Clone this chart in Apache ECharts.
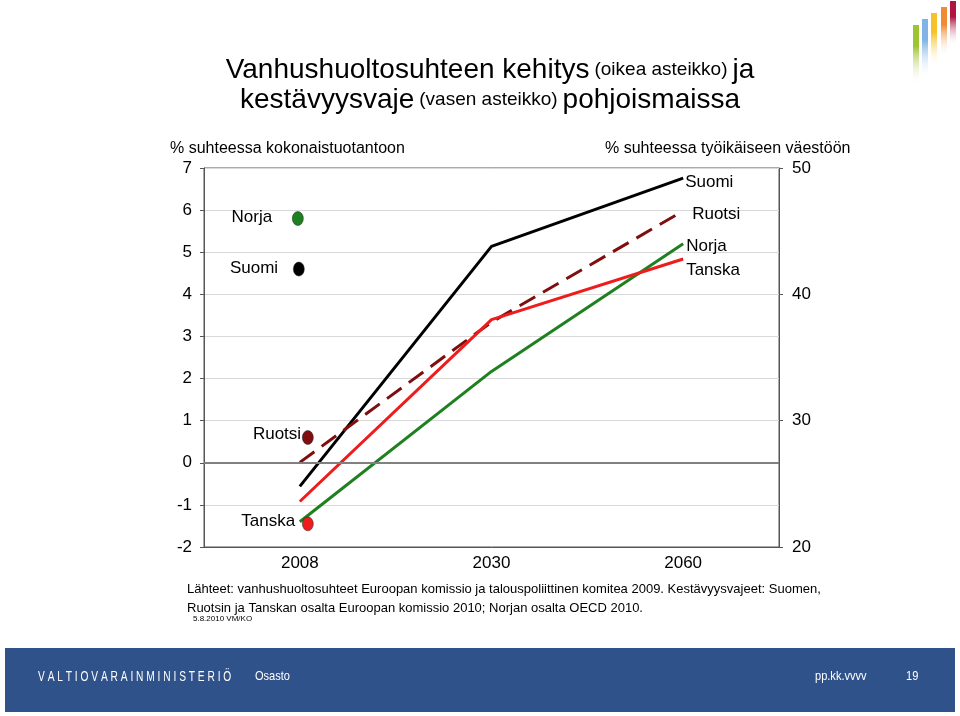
<!DOCTYPE html>
<html>
<head>
<meta charset="utf-8">
<script src="https://cdn.jsdelivr.net/npm/echarts@6/dist/echarts.min.js"></script>
<style>
  html, body { margin: 0; padding: 0; background: #fff; }
  #main { width: 960px; height: 716px; }
</style>
</head>
<body>
<div id="main"></div>
<script>
  // vuodet
  var years = ['2008', '2030', '2060']

  // vanhushuoltosuhde, % työikäisestä väestöstä (oikea asteikko)
  var suomiLine = [24.8, 43.8, 49.2]
  var ruotsiLine = [26.7, 37.8, 46.6]
  var norjaLine = [22.0, 33.9, 44.0]
  var tanskaLine = [23.6, 38.0, 42.8]

  // kestävyysvaje, % kokonaistuotannosta (vasen asteikko), vuosi 2008
  var gapNames = ['Norja', 'Suomi', 'Ruotsi', 'Tanska']
  var gapValues = [5.8, 4.6, 0.6, -1.45]

  var fontFam = '"Liberation Sans", Arial, sans-serif'
  var chart = echarts.init(document.getElementById('main'))

  function lineSeries(name, data, color, dashed, dist, dy) {
    return {
      name: name,
      type: 'line',
      yAxisIndex: 1,
      data: data,
      symbol: 'none',
      lineStyle: { color: color, width: 3, type: dashed ? [18, 9] : 'solid' },
      endLabel: {
        show: true,
        formatter: '{a}',
        color: '#000',
        fontSize: 17,
        fontFamily: fontFam,
        distance: dist,
        offset: [0, dy],
      },
      z: 3,
    }
  }

  function dotSeries(i, color, dx, dist, dy) {
    var d = [null, null, null]
    d[0] = gapValues[i]
    return {
      name: gapNames[i] + ' vaje',
      type: 'scatter',
      yAxisIndex: 0,
      data: d,
      symbol: 'circle',
      symbolSize: [11, 14],
      symbolOffset: [dx, 0],
      itemStyle: { color: color, opacity: 1, borderColor: '#222', borderWidth: 0.5 },
      label: {
        show: true,
        position: 'left',
        formatter: gapNames[i],
        color: '#000',
        opacity: 1,
        fontSize: 17,
        fontFamily: fontFam,
        distance: dist,
        offset: [0, dy],
      },
      emphasis: { disabled: true },
      z: 4,
    }
  }

  var option = {
    animation: false,
    backgroundColor: '#fff',
    textStyle: { fontFamily: fontFam },
    title: [
      {
        left: 485,
        top: 50,
        textAlign: 'center',
        text: '{a|Vanhushuoltosuhteen kehitys} {b|(oikea asteikko)} {a|ja}\n{a|kestävyysvaje} {b|(vasen asteikko)} {a|pohjoismaissa}',
        textStyle: {
          fontWeight: 'normal',
          rich: {
            a: { fontSize: 28, fontWeight: 'normal', color: '#000', fontFamily: fontFam, lineHeight: 30 },
            b: { fontSize: 19, fontWeight: 'normal', color: '#000', fontFamily: fontFam, lineHeight: 30 },
          },
        },
      },
      {
        left: 165,
        top: 136,
        text: '% suhteessa kokonaistuotantoon',
        textStyle: { fontSize: 16, fontWeight: 'normal', color: '#000', fontFamily: fontFam },
      },
      {
        left: 600,
        top: 136,
        text: '% suhteessa työikäiseen väestöön',
        textStyle: { fontSize: 16, fontWeight: 'normal', color: '#000', fontFamily: fontFam },
      },
      {
        left: 182,
        top: 575,
        text: 'Lähteet: vanhushuoltosuhteet Euroopan komissio ja talouspoliittinen komitea 2009. Kestävyysvajeet: Suomen,\nRuotsin ja Tanskan osalta Euroopan komissio 2010; Norjan osalta OECD 2010.',
        textStyle: { fontSize: 13, fontWeight: 'normal', color: '#000', fontFamily: fontFam, lineHeight: 19 },
      },
      {
        left: 188,
        top: 610,
        text: '5.8.2010 VM/KO',
        textStyle: { fontSize: 8, fontWeight: 'normal', color: '#000', fontFamily: fontFam },
      },
    ],
    graphic: [
      { type: 'rect', shape: { x: 5, y: 648, width: 950, height: 64 }, style: { fill: '#30528a' } },
      {
        type: 'text', x: 38, y: 669, scaleX: 0.68,
        style: { text: 'V A L T I O V A R A I N M I N I S T E R I Ö', fill: '#fff', font: '15px ' + fontFam },
      },
      { type: 'text', x: 255, y: 670, scaleX: 0.85, style: { text: 'Osasto', fill: '#fff', font: '13px ' + fontFam } },
      { type: 'text', x: 815, y: 670, scaleX: 0.85, style: { text: 'pp.kk.vvvv', fill: '#fff', font: '13px ' + fontFam } },
      { type: 'text', x: 906, y: 670, scaleX: 0.85, style: { text: '19', fill: '#fff', font: '13px ' + fontFam } },
    ].concat([
      ['#9dc431', 913, 25, 60],
      ['#80b4e6', 922, 19, 60],
      ['#f5c22a', 931, 13, 55],
      ['#ef8b32', 941, 7, 50],
      ['#b0143f', 950, 1, 45],
    ].map(function (b) {
      return {
        type: 'rect',
        shape: { x: b[1], y: b[2], width: 6, height: b[3] },
        style: {
          fill: new echarts.graphic.LinearGradient(0, 0, 0, 1, [
            { offset: 0, color: b[0] },
            { offset: 0.35, color: b[0] },
            { offset: 1, color: 'rgba(255,255,255,0)' },
          ]),
        },
      }
    })),
    grid: {
      left: 204,
      right: 181,
      top: 168,
      bottom: 169,
      show: true,
      borderColor: '#555',
      borderWidth: 1,
      backgroundColor: 'transparent',
    },
    xAxis: {
      type: 'category',
      data: years,
      boundaryGap: true,
      axisLine: { onZero: false, lineStyle: { color: '#555' } },
      axisTick: { show: false },
      axisLabel: { color: '#000', fontSize: 17, margin: 8, fontFamily: fontFam },
    },
    yAxis: [
      {
        type: 'value',
        min: -2,
        max: 7,
        interval: 1,
        axisLine: { show: true, onZero: false, lineStyle: { color: '#555' } },
        axisTick: { show: true, inside: false, length: 4, lineStyle: { color: '#555' } },
        axisLabel: { color: '#000', fontSize: 17, margin: 12, fontFamily: fontFam },
        splitLine: { show: true, lineStyle: { color: '#d9d9d9', width: 1 } },
      },
      {
        type: 'value',
        min: 20,
        max: 50,
        interval: 10,
        position: 'right',
        axisLine: { show: true, onZero: false, lineStyle: { color: '#555' } },
        axisTick: { show: true, length: 4, lineStyle: { color: '#555' } },
        axisLabel: { color: '#000', fontSize: 17, margin: 13, fontFamily: fontFam },
        splitLine: { show: false },
      },
    ],
    series: [
      {
        name: 'nollataso',
        type: 'line',
        yAxisIndex: 0,
        data: [],
        markLine: {
          silent: true,
          symbol: 'none',
          label: { show: false },
          lineStyle: { color: '#808080', width: 2, type: 'solid' },
          data: [{ yAxis: 0 }],
        },
        z: 1,
      },
      lineSeries('Suomi', suomiLine, '#000000', false, 2, 4),
      lineSeries('Ruotsi', ruotsiLine, '#7f0f0f', true, 9, 3),
      lineSeries('Norja', norjaLine, '#1e801e', false, 3, 3),
      lineSeries('Tanska', tanskaLine, '#ee1c1c', false, 3, 11),
      dotSeries(0, '#1e801e', -2, 20, -1),
      dotSeries(1, '#000000', -1, 15, -1),
      dotSeries(2, '#7f0f0f', 8, 1, -3),
      dotSeries(3, '#ee1c1c', 8, 7, -3),
    ],
  }

  chart.setOption(option)
  window.addEventListener('resize', function () {
    chart.resize()
  })
</script>
</body>
</html>
